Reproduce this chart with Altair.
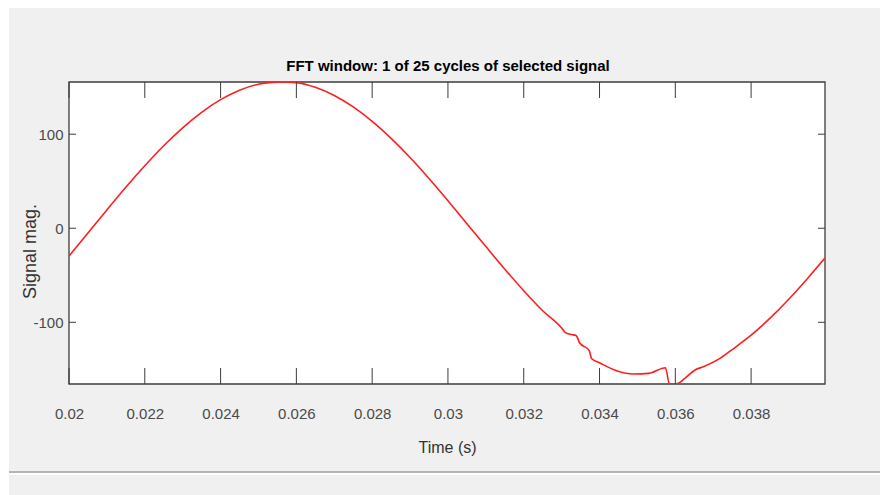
import altair as alt
import pandas as pd

# ---- data ----
times = [0.0200, 0.0205, 0.0210, 0.0215, 0.0220, 0.0225, 0.0230, 0.0235, 0.0240,
         0.0245, 0.0250, 0.0255, 0.0256, 0.0260, 0.0265, 0.0270, 0.0275, 0.0280,
         0.0285, 0.0290, 0.0295, 0.0300, 0.0305, 0.0310, 0.0315, 0.0320, 0.0325,
         0.0330, 0.0331, 0.03326, 0.03338, 0.03347, 0.03373, 0.03379, 0.0340,
         0.03445, 0.0349, 0.0353, 0.03574, 0.03584, 0.03590, 0.03603, 0.03625,
         0.03652, 0.03674, 0.0372, 0.0375, 0.0380, 0.0385, 0.0390, 0.0395, 0.03995]
values = [-29.5, -5.0, 19.5, 43.5, 66.4, 87.7, 106.8, 123.3, 136.7,
          146.8, 153.2, 155.4, 155.5, 154.8, 149.8, 141.1, 129.0, 113.7,
          95.6, 75.2, 52.8, 29.2, 4.9, -19.5, -43.5, -66.4, -87.7,
          -106.0, -111.0, -113.0, -114.0, -121.5, -130.2, -138.5, -143.0,
          -151.5, -155.0, -154.3, -148.3, -165.0, -165.6, -165.4, -159.6,
          -150.7, -147.2, -137.8, -129.0, -113.7, -95.6, -75.2, -52.8, -31.6]
x_ticks = [0.02, 0.022, 0.024, 0.026, 0.028, 0.03, 0.032, 0.034, 0.036, 0.038]
y_ticks = [-100, 0, 100]

title_text = "FFT window: 1 of 25 cycles of selected signal"
x_title = "Time (s)"
y_title = "Signal mag."

W, H = 756, 302
NARROW = "Liberation Sans Narrow, Arial Narrow, Liberation Sans, Arial, sans-serif"
AXCOL = "#3c3c3c"

df = pd.DataFrame({"t": times, "v": values})
xt_df = pd.DataFrame({"t": x_ticks})
yt_df = pd.DataFrame({"v": y_ticks})
blank = alt.Data(values=[{"k": 0}])

xscale = alt.Scale(domain=[0.02, 0.03995], nice=False, zero=False)
yscale = alt.Scale(domain=[-165.6, 155.5], nice=False, zero=False)

xenc = alt.X("t:Q", scale=xscale, title=x_title,
             axis=alt.Axis(values=x_ticks, labelExpr="'' + datum.value",
                           ticks=False, tickSize=0, domain=False, grid=False,
                           labelFont=NARROW, labelFontSize=15, labelColor="#4a4a4a",
                           labelPadding=22, labelFlush=False,
                           titleFont=NARROW, titleFontSize=16, titleFontWeight="normal",
                           titleColor="#333333", titlePadding=18, zindex=1))
yenc = alt.Y("v:Q", scale=yscale, title=y_title,
             axis=alt.Axis(values=y_ticks, labelExpr="'' + datum.value",
                           ticks=False, tickSize=0, domain=False, grid=False,
                           labelFont=NARROW, labelFontSize=15, labelColor="#4a4a4a",
                           labelPadding=6, labelFlush=False,
                           titleFont="Liberation Sans", titleFontSize=18,
                           titleFontWeight="normal", titleColor="#333333",
                           titleX=-39, titleY=169, titleAlign="center",
                           titleBaseline="middle", zindex=1))

panel = alt.Chart(blank).mark_rect(color="#f0f0f0", clip=False).encode(
    x=alt.value(-60), x2=alt.value(811), y=alt.value(-74), y2=alt.value(389))
sep = alt.Chart(blank).mark_rule(color="#b4b4b4", strokeWidth=2).encode(
    x=alt.value(-60), x2=alt.value(811), y=alt.value(390))
bottom = alt.Chart(blank).mark_rect(color="#f0f0f0").encode(
    x=alt.value(-60), x2=alt.value(811), y=alt.value(393), y2=alt.value(413))
plotbg = alt.Chart(blank).mark_rect(fill="white", stroke=AXCOL, strokeWidth=1.3).encode(
    x=alt.value(0), x2=alt.value(W), y=alt.value(0), y2=alt.value(H))
title = alt.Chart(blank).mark_text(text=title_text, font=NARROW, fontSize=15,
                                   fontWeight="bold", color="black", align="center",
                                   baseline="alphabetic").encode(
    x=alt.value(379), y=alt.value(-11))

line = alt.Chart(df).mark_line(color="#ff1e1e", strokeWidth=1.6, clip=True,
                               interpolate="monotone").encode(x=xenc, y=yenc)

xt_bottom = alt.Chart(xt_df).mark_rule(color=AXCOL, strokeWidth=1).encode(
    x=xenc, y=alt.value(H), y2=alt.value(H - 16))
xt_top = alt.Chart(xt_df).mark_rule(color=AXCOL, strokeWidth=1).encode(
    x=xenc, y=alt.value(0), y2=alt.value(16))
yt_left = alt.Chart(yt_df).mark_rule(color=AXCOL, strokeWidth=1).encode(
    y=yenc, x=alt.value(0), x2=alt.value(7))
yt_right = alt.Chart(yt_df).mark_rule(color=AXCOL, strokeWidth=1).encode(
    y=yenc, x=alt.value(W), x2=alt.value(W - 7))

chart = alt.layer(panel, sep, bottom, plotbg, title, line, xt_bottom, xt_top,
                  yt_left, yt_right).properties(
    width=W, height=H,
    autosize=alt.AutoSizeParams(type="none"),
    padding={"left": 69, "top": 82, "right": 55, "bottom": 111},
).configure(background="white").configure_view(stroke=None)

chart.save("out.html", embed_options={"renderer": "svg", "actions": False})
